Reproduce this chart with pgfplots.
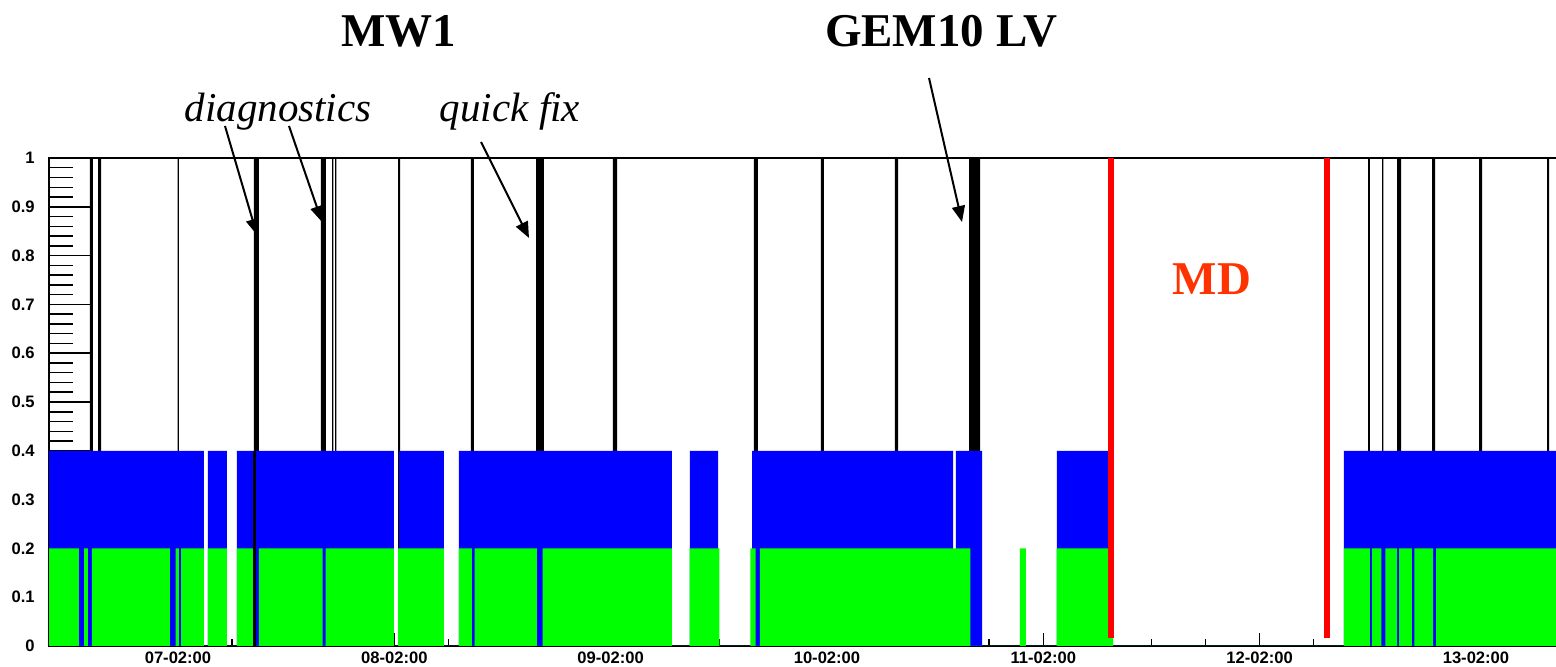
\documentclass[border=0pt]{standalone}
\usepackage{fontspec}
\setmainfont{Liberation Serif}
\newfontfamily\sansf{Liberation Sans}
\usepackage{pgfplots}
\pgfplotsset{compat=1.18}
\usetikzlibrary{arrows.meta}
\definecolor{mdred}{RGB}{255,51,0}
\definecolor{pblue}{RGB}{0,0,255}
\definecolor{pgreen}{RGB}{0,255,0}
\definecolor{pred}{RGB}{255,0,0}
\pgfplotsset{layers/mylayers/.define layer set={axis background,axis grid,axis ticks,main,axis lines,axis tick labels,axis descriptions,axis foreground}{}}
\begin{document}
\begin{tikzpicture}[x=0.5pt,y=0.5pt]
% underlying axis: y minor ticks only
\begin{axis}[
  at={(24.5pt,10.5pt)}, anchor=south west,
  scale only axis, width=754.5pt, height=244pt,
  xmin=-14.311, xmax=153.1, ymin=0, ymax=1,
  hide x axis,
  axis line style={line width=0.75pt, black},
  tick style={line width=0.75pt, black},
  tick align=inside, ytick pos=left,
  major tick length=12pt,
  ytick={0.02,0.04,0.06,0.08,0.12,0.14,0.16,0.18,0.22,0.24,0.26,0.28,0.32,0.34,0.36,0.38,0.42,0.44,0.46,0.48,0.52,0.54,0.56,0.58,0.62,0.64,0.66,0.68,0.72,0.74,0.76,0.78,0.82,0.84,0.86,0.88,0.92,0.94,0.96,0.98},
  yticklabels={},
]
\end{axis}
\begin{axis}[
  set layers=mylayers,
  at={(24.5pt,10.5pt)}, anchor=south west,
  scale only axis, width=754.5pt, height=244pt,
  xmin=-14.311, xmax=153.1, ymin=0, ymax=1,
  axis line style={line width=0.75pt, black},
  tick style={line width=0.75pt, black},
  tick align=inside, xtick pos=bottom, ytick pos=left,
  major tick length=6.5pt, minor tick length=3.5pt,
  xtick={0,24,48,72,96,120,144},
  xticklabels={07-02:00,08-02:00,09-02:00,10-02:00,11-02:00,12-02:00,13-02:00},
  minor xtick={-12,-6,6,12,18,30,36,42,54,60,66,78,84,90,102,108,114,126,132,138,150},
  ytick=\empty,
  extra y ticks={0,0.1,0.2,0.3,0.4,0.5,0.6,0.7,0.8,0.9,1},
  extra y tick labels={0,0.1,0.2,0.3,0.4,0.5,0.6,0.7,0.8,0.9,1},
  extra y tick style={major tick length=20.5pt},
  tick label style={font=\sansf\bfseries\fontsize{8.3}{10}\selectfont, inner sep=0pt},
  xticklabel style={yshift=-3pt},
  yticklabel style={xshift=-7pt},
]
% black status lines (0 to 1)
\addplot[const plot, fill=black, draw=none] coordinates {
 (-14.311,0) (-9.763,1) (-9.430,0) (-8.875,1) (-8.542,0) (-0.055,1) (0.111,0)
 (8.431,1) (8.986,0) (15.864,1) (16.419,0) (17.085,1) (17.251,0) (17.418,1) (17.584,0)
 (24.407,1) (24.629,0) (32.505,1) (32.838,0) (39.717,1) (40.604,0) (48.259,1) (48.703,0)
 (63.901,1) (64.345,0) (71.334,1) (71.667,0) (79.544,1) (79.877,0) (87.754,1) (88.974,0)
 (132.019,1) (132.240,0) (133.572,1) (133.738,0) (135.236,1) (135.680,0) (139.119,1) (139.452,0)
 (144.333,1) (144.666,0) (151.877,1) (152.099,0) (153.1,0)} \closedcycle;
% blue (0 to 0.4)
\addplot[const plot, fill=pblue, draw=none] coordinates {
 (-14.311,0.4) (2.884,0) (3.328,0.4) (5.436,0) (6.545,0.4) (23.963,0) (24.518,0.4) (29.510,0)
 (31.174,0.4) (54.804,0) (56.801,0.4) (59.908,0) (63.680,0.4) (85.979,0) (86.311,0.4) (89.196,0)
 (97.516,0.4) (103.396,0) (129.356,0.4) (153.1,0.4)} \closedcycle;
% green (0 to 0.2)
\addplot[const plot, fill=pgreen, draw=none] coordinates {
 (-14.311,0.2) (-10.983,0) (-10.428,0.2) (-9.985,0) (-9.541,0.2) (-0.888,0) (-0.277,0.2) (0.111,0)
 (0.333,0.2) (2.884,0) (3.328,0.2) (5.436,0) (6.545,0.2) (8.376,0) (8.986,0.2) (16.031,0)
 (16.364,0.2) (23.963,0) (24.407,0.2) (29.510,0) (31.174,0.2) (32.616,0) (32.894,0.2) (39.827,0)
 (40.438,0.2) (54.804,0) (56.746,0.2) (60.074,0) (63.513,0.2) (64.068,0) (64.567,0.2) (87.920,0)
 (93.411,0.2) (94.077,0) (97.461,0.2) (103.729,0) (129.356,0.2) (132.240,0) (132.462,0.2) (133.516,0)
 (133.960,0.2) (135.236,0) (135.458,0.2) (136.900,0) (137.177,0.2) (139.230,0) (139.563,0.2) (153.1,0.2)} \closedcycle;
% overlay line through the bands
\addplot[black, line width=1.2pt] coordinates {(8.487,0) (8.487,0.4)};
% MD boundaries
\addplot[pred, line width=3pt] coordinates {(103.507,0.016) (103.507,1)};
\addplot[pred, line width=3pt] coordinates {(127.470,0.016) (127.470,1)};
\end{axis}
% titles and annotations
\node[anchor=base, inner sep=0pt, font=\bfseries\fontsize{23.5}{28}\selectfont] at (399,620) {MW1};
\node[anchor=base, inner sep=0pt, font=\bfseries\fontsize{23.5}{28}\selectfont] at (941,620) {GEM10 LV};
\node[anchor=base, inner sep=0pt, font=\itshape\fontsize{20.5}{24}\selectfont] at (278,545) {diagnostics};
\node[anchor=base, inner sep=0pt, font=\itshape\fontsize{20.5}{24}\selectfont] at (510,545) {quick fix};
\node[anchor=base, inner sep=0pt, text=mdred, font=\bfseries\fontsize{23.5}{28}\selectfont] at (1212,372) {MD};
\draw[line width=1pt, -{Triangle[length=8pt,width=6.5pt]}] (225,541) -- (257,432);
\draw[line width=1pt, -{Triangle[length=8pt,width=6.5pt]}] (289,541) -- (322,445);
\draw[line width=1pt, -{Triangle[length=8pt,width=6.5pt]}] (481,525) -- (529,429);
\draw[line width=1pt, -{Triangle[length=8pt,width=6.5pt]}] (929,589) -- (962,445);
\pgfresetboundingbox
\path[use as bounding box] (0,0) rectangle (1556,667);
\end{tikzpicture}
\end{document}
